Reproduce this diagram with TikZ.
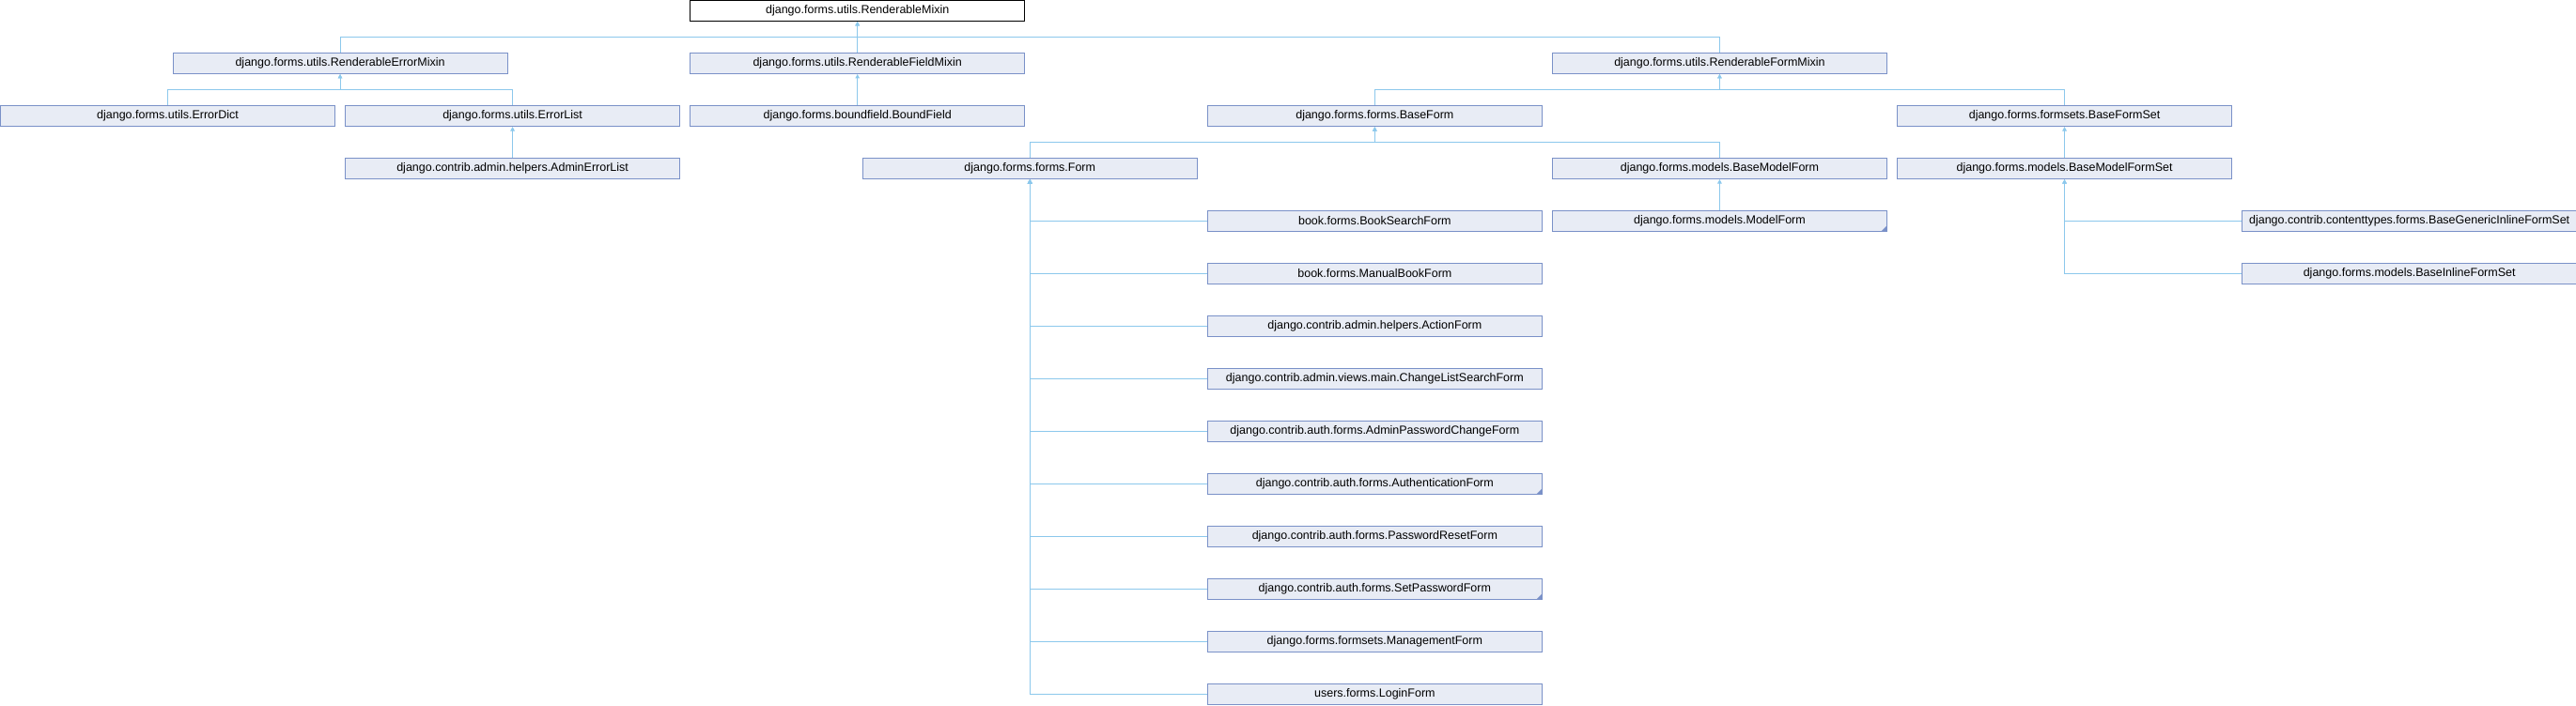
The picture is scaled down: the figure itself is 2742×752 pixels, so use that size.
\documentclass[tikz,border=0pt]{standalone}
\usepackage{fontspec}
\setmainfont{Liberation Sans}
\usetikzlibrary{arrows.meta}
\definecolor{boxfill}{RGB}{232,236,245}
\definecolor{boxline}{RGB}{122,145,200}
\definecolor{linkline}{RGB}{140,200,236}
\tikzset{
  cls/.style={draw=boxline,fill=boxfill,line width=1pt,anchor=north west,
    minimum width=356pt,minimum height=22pt,inner sep=0pt,
    font=\fontsize{12.5}{14}\selectfont},
  rootcls/.style={cls,draw=black,fill=white},
  leaf/.style={},
  more/.style={path picture={\fill[boxline] (path picture bounding box.south east)
    -- ++(-6pt,0) -- ++(6pt,6pt) -- cycle;}},
  link/.style={draw=linkline,line width=1pt,{Triangle[width=4.5pt,length=4.5pt]}-}
}
\begin{document}
\begin{tikzpicture}[x=183.55pt,y=-56pt]
  \useasboundingbox (0,0) rectangle (2742pt,-752pt);
  % classes
  \node[rootcls] (rmixin) at (4,0) {django.forms.utils.RenderableMixin};
  \node[cls] (errmixin) at (1,1) {django.forms.utils.RenderableErrorMixin};
  \node[cls] (fieldmixin) at (4,1) {django.forms.utils.RenderableFieldMixin};
  \node[cls] (formmixin) at (9,1) {django.forms.utils.RenderableFormMixin};
  \node[cls] (errdict) at (0,2) {django.forms.utils.ErrorDict};
  \node[cls] (errlist) at (2,2) {django.forms.utils.ErrorList};
  \node[cls] (boundfield) at (4,2) {django.forms.boundfield.BoundField};
  \node[cls] (baseform) at (7,2) {django.forms.forms.BaseForm};
  \node[cls] (baseformset) at (11,2) {django.forms.formsets.BaseFormSet};
  \node[cls] (adminerrlist) at (2,3) {django.contrib.admin.helpers.AdminErrorList};
  \node[cls] (form) at (5,3) {django.forms.forms.Form};
  \node[cls] (basemodelform) at (9,3) {django.forms.models.BaseModelForm};
  \node[cls] (basemodelformset) at (11,3) {django.forms.models.BaseModelFormSet};
  \node[cls,more] (modelform) at (9,4) {django.forms.models.ModelForm};
  \node[cls] (genericinline) at (13,4) {django.contrib.contenttypes.forms.BaseGenericInlineFormSet};
  \node[cls] (inlineformset) at (13,5) {django.forms.models.BaseInlineFormSet};
  \foreach \nm/\r/\opt/\txt in {
    booksearch/4/leaf/book.forms.BookSearchForm,
    manualbook/5/leaf/book.forms.ManualBookForm,
    actionform/6/leaf/django.contrib.admin.helpers.ActionForm,
    changelist/7/leaf/django.contrib.admin.views.main.ChangeListSearchForm,
    adminpwd/8/leaf/django.contrib.auth.forms.AdminPasswordChangeForm,
    authform/9/more/django.contrib.auth.forms.AuthenticationForm,
    pwdreset/10/leaf/django.contrib.auth.forms.PasswordResetForm,
    setpwd/11/more/django.contrib.auth.forms.SetPasswordForm,
    mgmtform/12/leaf/django.forms.formsets.ManagementForm,
    loginform/13/leaf/users.forms.LoginForm}
    \node[cls,\opt] (\nm) at (7,\r) {\txt};
  % inheritance
  \foreach \c in {errmixin,fieldmixin,formmixin}
    \draw[link] (rmixin.south) -- ++(0,-16.5pt) -| (\c.north);
  \foreach \c in {errdict,errlist}
    \draw[link] (errmixin.south) -- ++(0,-16.5pt) -| (\c.north);
  \foreach \c in {baseform,baseformset}
    \draw[link] (formmixin.south) -- ++(0,-16.5pt) -| (\c.north);
  \foreach \c in {form,basemodelform}
    \draw[link] (baseform.south) -- ++(0,-16.5pt) -| (\c.north);
  \draw[link] (errlist.south) -- (adminerrlist.north);
  \draw[link] (fieldmixin.south) -- (boundfield.north);
  \draw[link] (baseformset.south) -- (basemodelformset.north);
  \draw[link] (basemodelform.south) -- (modelform.north);
  \foreach \c in {booksearch,manualbook,actionform,changelist,adminpwd,
    authform,pwdreset,setpwd,mgmtform,loginform}
    \draw[link] (form.south) |- (\c.west);
  \foreach \c in {genericinline,inlineformset}
    \draw[link] (basemodelformset.south) |- (\c.west);
\end{tikzpicture}
\end{document}
